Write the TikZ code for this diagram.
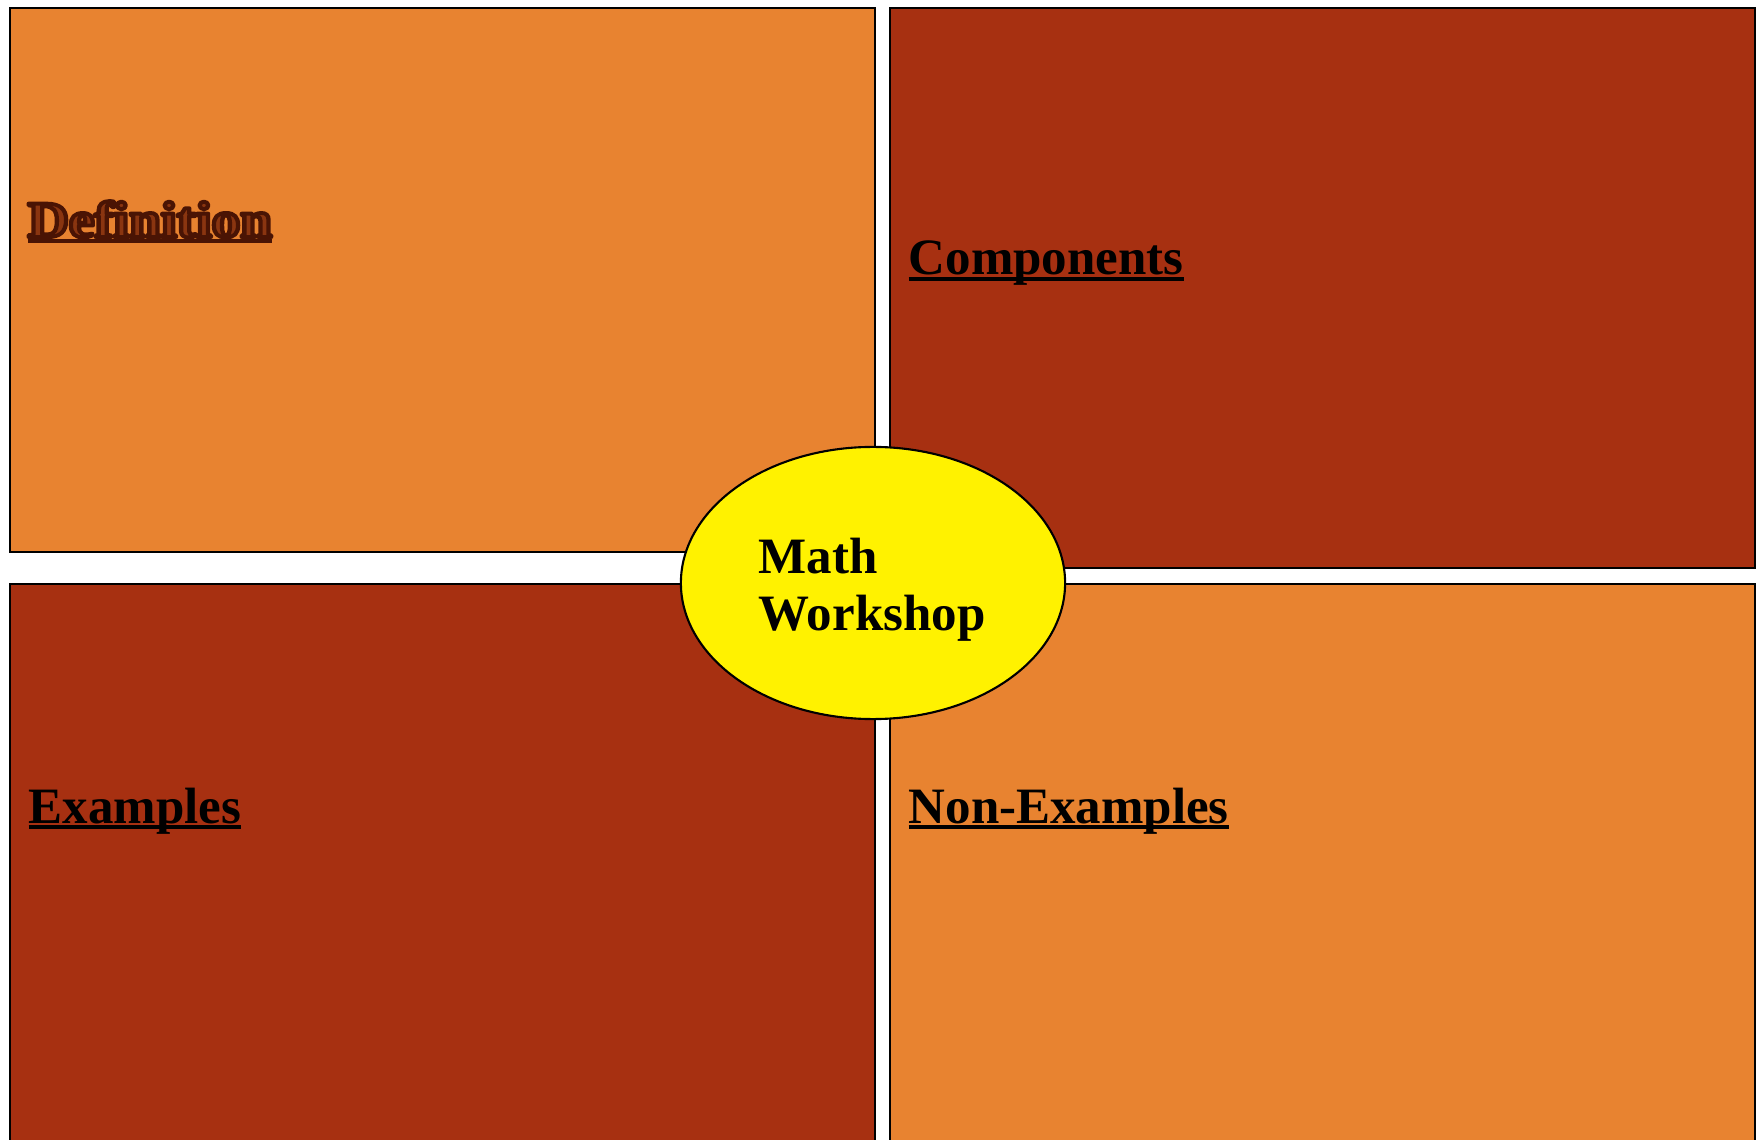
\documentclass[tikz,border=0pt]{standalone}
\usepackage{fontspec}
\usepackage{graphicx}
\setmainfont{Liberation Serif}
\usetikzlibrary{shapes.geometric, positioning, calc}
\definecolor{cardorange}{HTML}{E88330}
\definecolor{cardrust}{HTML}{A73011}
\definecolor{cardink}{HTML}{000000}
\definecolor{cardshade}{HTML}{4A1404}
\definecolor{cardfill}{HTML}{8A3510}
\newcommand{\cardul}[1]{\setbox0\hbox{#1}\rlap{\rule[-1.6pt]{\wd0}{0.9pt}}\box0}
% outlined heading: fill plus a dark stroke round the letters
\newcommand{\cardoutline}[1]{{\color{cardfill}%
    \special{pdf:literal direct 0.29 0.08 0.016 RG 1.1 w 1 j 2 Tr}#1\special{pdf:literal direct 0 Tr}}}

\begin{document}
\begin{tikzpicture}[x=0.01cm, y=-0.01cm,
        quad/.style={draw=cardink, line width=0.6pt, anchor=north west, inner sep=0pt, minimum width=8.64cm},
        head/.style={anchor=base west, inner sep=0pt, font=\fontsize{14.5}{16.5}\selectfont\bfseries, text=cardink},
        hub/.style={ellipse, draw=cardink, line width=0.6pt, fill=yellow, minimum width=3.84cm, minimum height=2.72cm, inner sep=0pt}
    ]
        \clip (0,0) rectangle (1760,1140);
        \node (defbox) [quad, fill=cardorange, minimum height=5.44cm] at (9,7) {};
        \node (compbox) [quad, fill=cardrust, minimum height=5.6cm] at (889,7) {};
        \node (exbox) [quad, fill=cardrust, minimum height=6cm] at (9,583) {};
        \node (nonexbox) [quad, fill=cardorange, minimum height=6cm] at (889,583) {};

        \node (defhead) [head, text=cardshade] at (27,237) {\scalebox{1.12}[1]{\cardul{\cardoutline{Definition}}}};
        \node (comphead) [head] at (908,275) {\cardul{Components}};
        \node (exhead) [head] at (28,823) {\cardul{Examples}};
        \node (nonexhead) [head] at (908,823) {\cardul{Non-Examples}};

        \node (center) [hub] at (873,583) {};
        \node (centertext) [head, align=left] at (758,630) {Math\\[-0.3pt]Workshop};
    \end{tikzpicture}
\end{document}
